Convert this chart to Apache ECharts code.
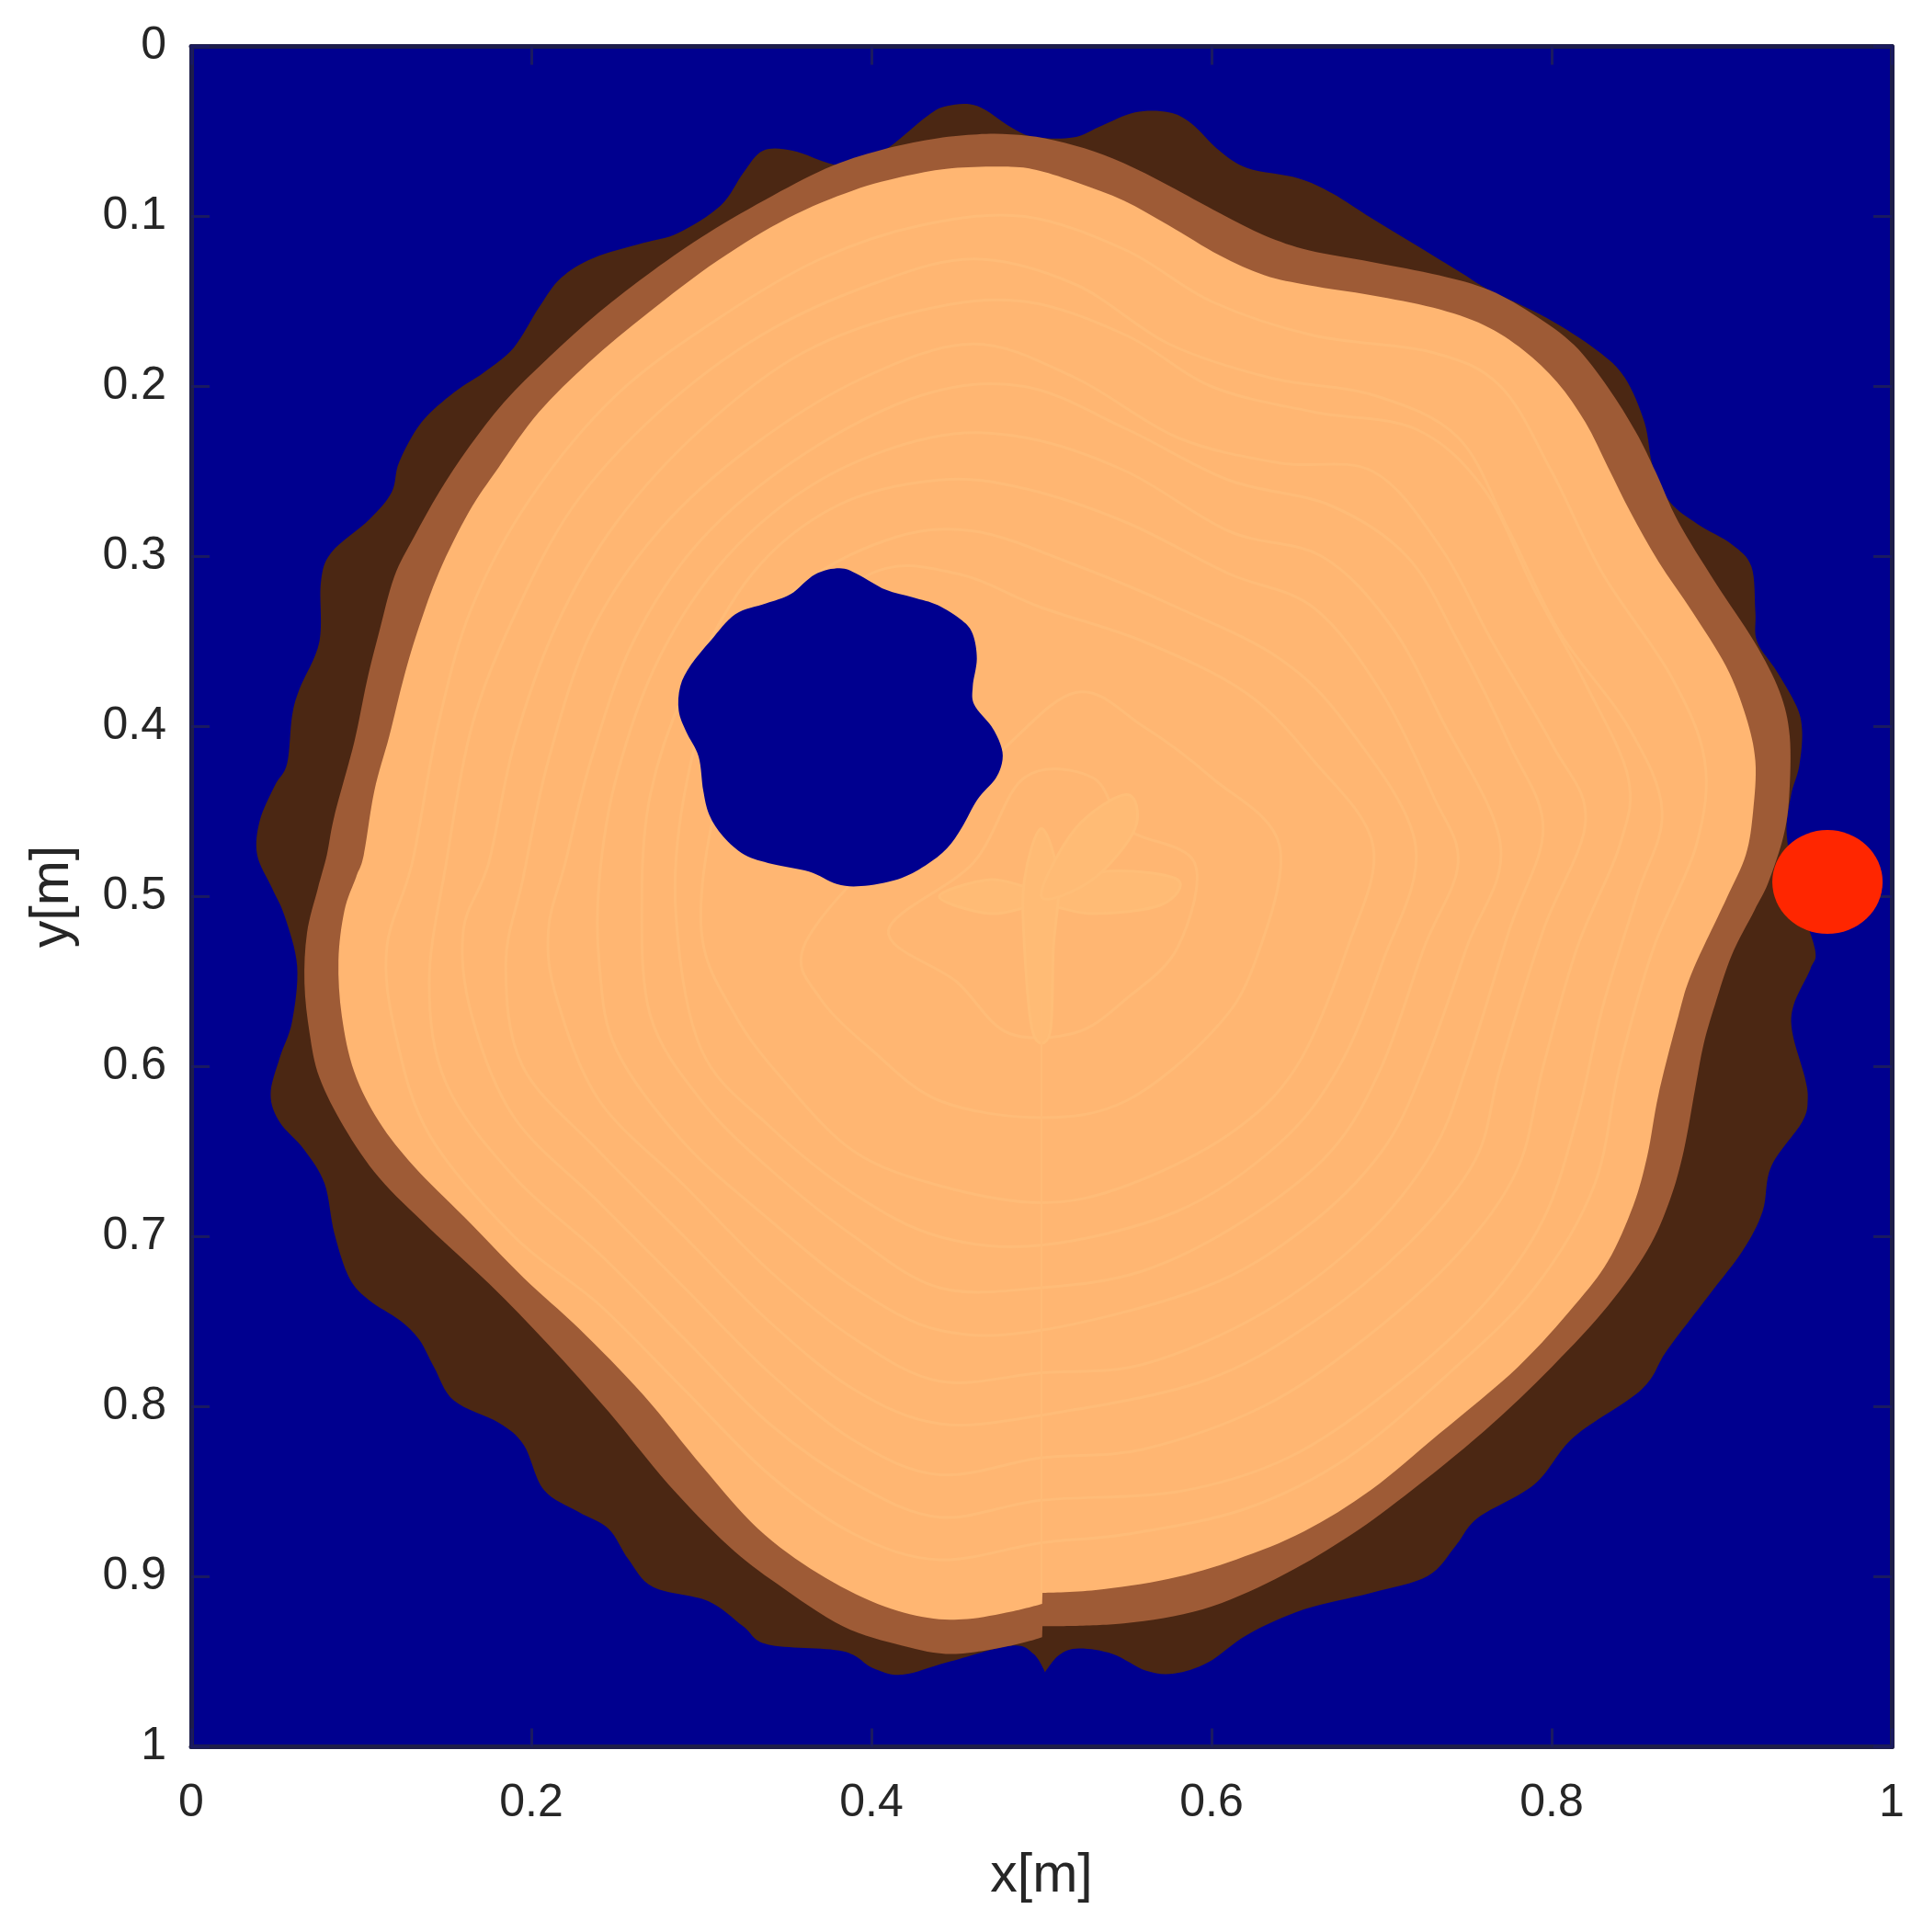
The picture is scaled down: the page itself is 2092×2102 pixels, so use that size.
<!DOCTYPE html>
<html>
<head>
<meta charset="utf-8">
<style>html,body{margin:0;padding:0;background:#fff}#c{width:2092px;height:2102px}</style>
<script src="https://cdn.jsdelivr.net/npm/echarts@6/dist/echarts.min.js"></script>
</head>
<body>
<div id="c"></div>
<script>
const xTicks = [0, 0.2, 0.4, 0.6, 0.8, 1];
const yTicks = [0, 0.1, 0.2, 0.3, 0.4, 0.5, 0.6, 0.7, 0.8, 0.9, 1];
const outerBark = [[.0388,.4754],[.0403,.4554],[.0491,.4349],[.0564,.4218],[.0593,.3939],[.0637,.3778],[.0754,.35],[.0763,.3148],[.0828,.2972],[.1047,.2782],[.1179,.2621],[.1223,.2445],[.1355,.221],[.1545,.2035],[.1721,.1917],[.1897,.1771],[.2044,.1537],[.2175,.1361],[.2366,.1244],[.2659,.1156],[.2864,.1097],[.3113,.0936],[.3245,.0746],[.3362,.0614],[.3538,.0614],[.3772,.0693],[.3919,.0687],[.4095,.0599],[.4329,.0409],[.4446,.035],[.4622,.035],[.4821,.0476],[.4954,.0532],[.5186,.0535],[.5352,.0467],[.555,.0388],[.5749,.0388],[.5881,.0453],[.6047,.0614],[.6212,.0716],[.651,.0775],[.6709,.0863],[.694,.1009],[.7205,.117],[.747,.1332],[.7636,.1434],[.7967,.1595],[.8265,.1786],[.843,.1947],[.8546,.2211],[.8596,.2474],[.8695,.2679],[.886,.2811],[.9059,.2928],[.9175,.306],[.9198,.3324],[.9208,.35],[.9324,.3675],[.944,.388],[.9473,.4027],[.9456,.4232],[.9407,.4408],[.9383,.4642],[.945,.5],[.9549,.5311],[.9522,.5425],[.9423,.5638],[.9416,.5802],[.9489,.6064],[.9506,.6195],[.9473,.6326],[.9291,.6588],[.9241,.685],[.9125,.708],[.8927,.7342],[.8678,.7669],[.8529,.7898],[.8132,.8177],[.79,.8455],[.7569,.8652],[.7437,.8816],[.7271,.8996],[.694,.9094],[.6543,.9192],[.6212,.934],[.5981,.9503],[.5782,.9569],[.5616,.9553],[.5418,.9454],[.5219,.9422],[.5103,.9461],[.5021,.9562],[.4954,.9454],[.4821,.9405],[.4446,.9503],[.4182,.9576],[.4007,.9536],[.3831,.9438],[.3391,.9399],[.3245,.9291],[.304,.9143],[.2717,.9061],[.2571,.8897],[.2454,.8717],[.2278,.8619],[.2073,.8488],[.1956,.8226],[.1809,.8095],[.1545,.7964],[.1428,.7767],[.134,.7604],[.1223,.7489],[.1047,.7374],[.093,.7243],[.0842,.6981],[.0784,.6687],[.0666,.649],[.052,.6326],[.0467,.6162],[.052,.595],[.0593,.5737],[.0623,.5409],[.0549,.5114],[.0476,.4951]];
const innerBark = [[.0798,.4754],[.0842,.4525],[.096,.4086],[.1033,.3734],[.1106,.3441],[.1194,.3119],[.1311,.2884],[.1458,.2621],[.1633,.2357],[.1839,.2093],[.2102,.183],[.2395,.1566],[.2717,.1317],[.304,.1097],[.3421,.0877],[.3772,.0702],[.4095,.0599],[.4388,.054],[.4622,.0517],[.4821,.0517],[.5021,.054],[.5252,.0599],[.5484,.0687],[.5749,.0819],[.6047,.098],[.6312,.1112],[.6576,.12],[.694,.1267],[.7338,.1346],[.7636,.1434],[.79,.1581],[.8132,.1756],[.8331,.2005],[.8496,.2269],[.8612,.2503],[.8745,.2796],[.896,.3148],[.9191,.35],[.934,.3793],[.94,.4056],[.9397,.4408],[.9364,.4642],[.9274,.4918],[.9192,.5082],[.9059,.5344],[.896,.5638],[.8894,.5868],[.8844,.613],[.8778,.649],[.8695,.6785],[.8563,.708],[.8331,.7407],[.8,.7767],[.7602,.8144],[.7139,.8521],[.6775,.8783],[.6378,.9012],[.5947,.9192],[.5484,.9274],[.5006,.9291],[.5004,.9356],[.4821,.9405],[.4476,.9454],[.4182,.9405],[.3831,.9291],[.345,.9045],[.3157,.8816],[.2805,.8455],[.2454,.8029],[.2102,.7636],[.1751,.7276],[.1399,.6948],[.1106,.6654],[.0901,.6359],[.0754,.6064],[.0696,.5802],[.0666,.5507],[.0681,.5213],[.0745,.4951]];
const heartwood = [[.1015,.4754],[.1077,.4379],[.1165,.4056],[.1252,.3705],[.134,.3412],[.1458,.309],[.1633,.2738],[.1809,.2474],[.2044,.2152],[.2337,.1859],[.2688,.1566],[.3098,.1258],[.3509,.1009],[.3889,.0848],[.4212,.076],[.4476,.0716],[.4821,.0708],[.4988,.0731],[.5219,.0804],[.5484,.0907],[.5749,.1053],[.6047,.1229],[.6312,.1346],[.6576,.1405],[.694,.1463],[.7305,.1537],[.7602,.1639],[.7834,.1786],[.8033,.1976],[.8198,.221],[.8331,.2474],[.8463,.2738],[.8629,.3031],[.8827,.3324],[.9026,.3646],[.9142,.3939],[.9198,.4203],[.9185,.4496],[.9142,.4754],[.9026,.5016],[.8827,.5442],[.8745,.5704],[.8629,.6162],[.8563,.6523],[.848,.6817],[.8331,.7145],[.8132,.7407],[.7801,.7767],[.7338,.816],[.694,.8488],[.6543,.8734],[.6146,.8898],[.5749,.9012],[.5318,.9078],[.5006,.9094],[.5004,.9159],[.4821,.9205],[.4563,.9248],[.4329,.9241],[.4036,.916],[.3684,.8979],[.3333,.8717],[.301,.8357],[.2659,.7931],[.2278,.7538],[.1956,.7243],[.1604,.6883],[.1311,.6588],[.1106,.6326],[.0959,.6031],[.0886,.5704],[.0866,.5376],[.0901,.5082],[.097,.4885]];
const hollow = [[.3813,.3069],[.3921,.3105],[.4083,.3195],[.4245,.324],[.4389,.3285],[.4533,.3376],[.4596,.3457],[.462,.3601],[.4596,.3763],[.4605,.3871],[.4705,.3997],[.4759,.4105],[.4771,.4195],[.4732,.4303],[.4623,.443],[.4533,.4592],[.4443,.4718],[.4317,.4817],[.4155,.4898],[.3939,.4938],[.3795,.4925],[.3633,.4853],[.3416,.4808],[.3254,.4754],[.3128,.4646],[.3047,.452],[.3011,.4376],[.2984,.4177],[.2912,.4033],[.2867,.3907],[.2876,.3763],[.2939,.3637],[.3056,.3493],[.32,.3339],[.338,.3276],[.3524,.3222],[.3668,.3105]];
const source = [[.9622,.4914]];
const grain40 = [[.13,.48],[.145,.40],[.165,.33],[.20,.265],[.25,.205],[.31,.16],[.37,.125],[.43,.105],[.49,.10],[.55,.12],[.60,.15],[.66,.17],[.73,.18],[.77,.20],[.80,.25],[.83,.31],[.87,.37],[.89,.42],[.885,.47],[.86,.53],[.84,.60],[.825,.67],[.79,.73],[.74,.78],[.68,.83],[.62,.86],[.55,.875],[.50,.88],[.44,.89],[.39,.875],[.34,.84],[.29,.79],[.24,.74],[.19,.70],[.14,.64],[.12,.58],[.115,.53]];
const grain375 = [[.15,.48],[.165,.40],[.19,.335],[.225,.27],[.275,.215],[.335,.17],[.40,.14],[.46,.125],[.52,.14],[.575,.175],[.635,.195],[.695,.205],[.745,.23],[.775,.285],[.805,.345],[.845,.40],[.865,.45],[.85,.50],[.83,.565],[.815,.63],[.795,.69],[.76,.74],[.705,.79],[.645,.83],[.58,.85],[.50,.855],[.44,.865],[.39,.845],[.34,.81],[.29,.76],[.24,.71],[.19,.665],[.15,.61],[.14,.55]];
const grain35 = [[.175,.48],[.19,.41],[.215,.34],[.25,.28],[.30,.225],[.36,.18],[.43,.155],[.49,.15],[.55,.17],[.60,.20],[.66,.215],[.72,.225],[.76,.26],[.79,.32],[.82,.375],[.845,.43],[.84,.47],[.815,.53],[.795,.60],[.78,.66],[.745,.71],[.69,.76],[.63,.80],[.56,.825],[.50,.83],[.44,.84],[.39,.82],[.34,.78],[.29,.73],[.24,.68],[.19,.63],[.165,.57],[.16,.52]];
const grain325 = [[.195,.49],[.21,.42],[.235,.345],[.275,.285],[.33,.235],[.395,.195],[.46,.175],[.52,.195],[.58,.23],[.64,.245],[.695,.25],[.735,.295],[.765,.35],[.80,.41],[.82,.455],[.795,.52],[.77,.60],[.755,.655],[.715,.705],[.66,.75],[.595,.785],[.50,.805],[.44,.81],[.39,.79],[.34,.75],[.29,.70],[.24,.65],[.195,.60],[.185,.54]];
const grain30 = [[.22,.48],[.235,.42],[.26,.35],[.30,.29],[.36,.24],[.43,.205],[.49,.20],[.55,.225],[.61,.255],[.67,.27],[.715,.30],[.745,.35],[.775,.41],[.795,.46],[.775,.52],[.75,.60],[.73,.65],[.69,.70],[.63,.745],[.56,.775],[.50,.78],[.44,.785],[.39,.76],[.34,.72],[.29,.67],[.24,.62],[.215,.56],[.21,.52]];
const grain275 = [[.24,.49],[.25,.43],[.275,.36],[.315,.30],[.37,.255],[.435,.23],[.49,.23],[.55,.25],[.61,.285],[.665,.30],[.705,.34],[.735,.395],[.77,.47],[.75,.53],[.725,.60],[.70,.65],[.655,.695],[.595,.73],[.50,.755],[.44,.755],[.39,.73],[.34,.69],[.29,.645],[.25,.59],[.24,.54]];
const grain25 = [[.265,.50],[.27,.44],[.29,.38],[.33,.31],[.38,.27],[.44,.255],[.49,.26],[.55,.28],[.61,.31],[.66,.33],[.70,.38],[.73,.44],[.745,.48],[.725,.53],[.70,.60],[.67,.65],[.62,.69],[.56,.72],[.50,.73],[.44,.73],[.39,.70],[.34,.66],[.30,.62],[.27,.57]];
const grain225 = [[.285,.51],[.29,.44],[.31,.375],[.355,.32],[.41,.29],[.46,.285],[.52,.305],[.58,.33],[.64,.36],[.68,.40],[.72,.47],[.70,.54],[.675,.60],[.64,.645],[.58,.685],[.50,.705],[.44,.70],[.39,.675],[.34,.635],[.30,.59]];
const grain20 = [[.30,.52],[.31,.44],[.34,.36],[.40,.31],[.45,.31],[.50,.33],[.56,.35],[.62,.38],[.66,.42],[.695,.47],[.68,.53],[.65,.60],[.61,.64],[.55,.67],[.50,.68],[.44,.67],[.39,.65],[.35,.61],[.32,.57]];
const grain15 = [[.36,.53],[.40,.48],[.47,.42],[.52,.38],[.56,.40],[.60,.43],[.64,.47],[.625,.54],[.60,.58],[.55,.62],[.50,.63],[.44,.62],[.40,.59],[.37,.56]];
const grain10 = [[.41,.52],[.46,.48],[.49,.43],[.53,.43],[.55,.46],[.59,.48],[.58,.53],[.55,.56],[.52,.58],[.48,.58],[.45,.55]];
const petalWide = [[.44,.5],[.47,.49],[.5,.495],[.54,.485],[.58,.49],[.57,.505],[.53,.51],[.5,.505],[.47,.51]];
const petalTall = [[.5,.46],[.51,.49],[.507,.53],[.505,.58],[.495,.58],[.49,.53],[.49,.49]];
const petalSlant = [[.5,.5],[.52,.46],[.55,.44],[.555,.46],[.53,.49]];
const seam = [[.5,.56],[.5,.908]];
const grainRings = [grain40, grain375, grain35, grain325, grain30, grain275, grain25, grain225, grain20, grain15, grain10];
const petals = [petalWide, petalTall, petalSlant];

const BLUE = '#00008f';
// Closed Catmull-Rom outline; optionally keeps real corners sharp (the seam step at x = 0.5).
function outlinePath(pts, sharp) {
  const n = pts.length;
  const tan = pts.map((p, i) => {
    const a = pts[(i - 1 + n) % n], b = pts[(i + 1) % n];
    const u = [p[0] - a[0], p[1] - a[1]], v = [b[0] - p[0], b[1] - p[1]];
    const cos = (u[0] * v[0] + u[1] * v[1]) / (Math.hypot(u[0], u[1]) * Math.hypot(v[0], v[1]) || 1);
    return sharp && cos < 0.35 ? [0, 0] : [(b[0] - a[0]) / 6, (b[1] - a[1]) / 6];
  });
  let d = 'M' + pts[0][0] + ' ' + pts[0][1];
  for (let i = 0; i < n; i++) {
    const j = (i + 1) % n, p = pts[i], q = pts[j];
    d += 'C' + (p[0] + tan[i][0]) + ' ' + (p[1] + tan[i][1]) + ' ' + (q[0] - tan[j][0]) + ' ' + (q[1] - tan[j][1]) + ' ' + q[0] + ' ' + q[1];
  }
  return d + 'Z';
}
function blob(name, pts, style, z, sharp) {
  return {
    name, type: 'custom', coordinateSystem: 'cartesian2d', z, clip: true,
    data: pts, encode: {x: 0, y: 1}, silent: true,
    renderItem(params, api) {
      if (params.dataIndex !== 0) return null;
      return {type: 'path', shape: {pathData: outlinePath(pts.map(p => api.coord(p)), sharp)}, style};
    }
  };
}
const grainStyle = {fill: null, stroke: '#ffbc78', lineWidth: 3};
const petalStyle = {fill: '#ffbb75', stroke: '#ffbe78', lineWidth: 3};
const tickFont = {fontFamily: 'Liberation Sans', fontSize: 50, color: '#262626'};
const nameFont = {fontFamily: 'Liberation Sans', fontSize: 59, color: '#262626'};
const frame = {show: true, onZero: false, lineStyle: {color: '#1d1d4a', width: 5}};
const ticks = {show: true, inside: true, length: 20, lineStyle: {color: '#1a1a60', width: 3}};
function axis(extra) {
  return Object.assign({type: 'value', min: 0, max: 1, splitLine: {show: false}, minorTick: {show: false},
    axisLine: frame, axisTick: ticks}, extra);
}
const labelFmt = v => String(Math.round(v * 10) / 10);
const chart = echarts.init(document.getElementById('c'), null, {renderer: 'canvas'});
chart.setOption({
  animation: false,
  backgroundColor: '#fff',
  grid: {left: 208, top: 50.5, width: 1850, height: 1850, show: true, backgroundColor: BLUE, borderWidth: 0},
  xAxis: [
    axis({position: 'bottom', interval: 0.2, name: 'x[m]', nameLocation: 'middle', nameGap: 112, nameTextStyle: nameFont,
      axisLabel: Object.assign({margin: 37, formatter: labelFmt, showMinLabel: true, showMaxLabel: true}, tickFont)}),
    axis({position: 'top', interval: 0.2, axisLabel: {show: false}})
  ],
  yAxis: [
    axis({position: 'left', inverse: true, interval: 0.1, name: 'y[m]', nameLocation: 'middle', nameGap: 121, nameTextStyle: nameFont,
      axisLabel: Object.assign({margin: 27, padding: [5, 0, 0, 0], formatter: labelFmt, showMinLabel: true, showMaxLabel: true}, tickFont)}),
    axis({position: 'right', inverse: true, interval: 0.1, axisLabel: {show: false}})
  ],
  series: [
    blob('Outer bark', outerBark, {fill: '#4b2713'}, 2, true),
    blob('Inner bark', innerBark, {fill: '#9e5b36'}, 3, true),
    blob('Heartwood', heartwood, {fill: '#ffb672'}, 4, true),
    ...grainRings.map((r, i) => blob('Grain ' + i, r, grainStyle, 5, false)),
    ...petals.map((r, i) => blob('Petal ' + i, r, petalStyle, 5, false)),
    {name: 'Seam', type: 'line', z: 5, data: seam, showSymbol: false, silent: true,
     lineStyle: {color: '#ffbb76', width: 2}},
    blob('Hollow', hollow, {fill: BLUE}, 6, false),
    {name: 'Source', type: 'scatter', z: 7, data: source, symbol: 'circle', symbolSize: [120, 113],
     itemStyle: {color: '#ff2600', opacity: 1}, silent: true}
  ]
});
</script>
</body>
</html>
